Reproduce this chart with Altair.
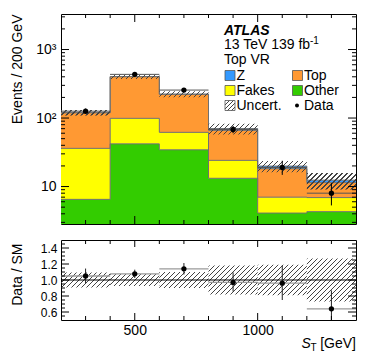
import math
import altair as alt
import pandas as pd

# ---------------- values ----------------
bin_lo = [200, 400, 600, 800, 1000, 1200]
bin_hi = [400, 600, 800, 1000, 1200, 1400]
bin_mid = [300, 500, 700, 900, 1100, 1300]

other = [6.5, 42.0, 34.4, 13.2, 4.1, 4.3]
fakes = [29.6, 57.0, 27.4, 10.9, 2.9, 2.6]
top = [83.0, 302.0, 160.0, 42.0, 11.2, 4.5]
zjets = [1.0, 2.0, 2.0, 4.0, 1.7, 1.0]

data_obs = [126, 434, 256, 68, 19, 8]
data_up = [11.3, 21.0, 16.5, 8.8, 4.8, 3.2]
data_dn = [11.0, 20.5, 15.5, 8.0, 4.2, 2.7]

unc_rel = [0.095, 0.075, 0.10, 0.18, 0.19, 0.27]

ratio = [1.05, 1.077, 1.14, 0.97, 0.96, 0.64]
ratio_up = [0.093, 0.052, 0.072, 0.125, 0.22, 0.23]
ratio_dn = [0.093, 0.052, 0.072, 0.115, 0.21, 0.20]

comp_names = ["Other", "Fakes", "Top", "Z"]
comp_colors = ["#33cc00", "#ffff00", "#ff9933", "#3399ff"]

x_major = [500, 1000]
x_minor = [300, 400, 600, 700, 800, 900, 1100, 1200, 1300]
y_major = [10, 100, 1000]
y_minor = [3, 4, 5, 6, 7, 8, 9, 20, 30, 40, 50, 60, 70, 80, 90,
           200, 300, 400, 500, 600, 700, 800, 900, 2000, 3000]
r_major = [0.6, 0.8, 1.0, 1.2, 1.4]
r_minor = [0.55, 0.65, 0.7, 0.75, 0.85, 0.9, 0.95, 1.05, 1.1, 1.15,
           1.25, 1.3, 1.35, 1.45]

legend_labels = ["Z", "Top", "Fakes", "Other", "Uncert.", "Data"]
legend_colors = ["#3399ff", "#ff9933", "#ffff00", "#33cc00", None, None]

# ---------------- layout / style ----------------
FONT = "Liberation Sans"
W, H1, H2 = 295, 210, 80
XD = [200, 1400]
YD = [2.84, 3300]
RD = [0.5, 1.5]
HATCH_COL = "#444444"
CLEAR = "rgba(255,255,255,0)"


def hatch_fill(w, h, spacing=5.0, lw=0.9, color=HATCH_COL):
    period = spacing / math.sqrt(2)
    s = w + h
    n2 = w * w + h * h
    L = s / math.sqrt(2)
    stops = []
    k = 0
    while True:
        a = k * period / L
        if a >= 1:
            break
        b = min((k * period + lw) / L, 1.0)
        stops += [{"offset": a, "color": CLEAR}, {"offset": a, "color": color},
                  {"offset": b, "color": color}, {"offset": b, "color": CLEAR}]
        k += 1
    return {"gradient": "linear", "x1": 0, "y1": 0,
            "x2": w * s / n2, "y2": h * s / n2, "stops": stops}


def ypx_top(v):
    a, b = math.log10(YD[0]), math.log10(YD[1])
    return H1 * (b - math.log10(v)) / (b - a)


xs = alt.Scale(domain=XD, nice=False, zero=False)
ys_top = alt.Scale(type="log", domain=YD, nice=False)
ys_rat = alt.Scale(domain=RD, nice=False, zero=False)

y_axis_top = alt.Axis(values=y_major, labelExpr="datum.value >= 1000 ? '10³' : (datum.value >= 100 ? '10²' : '10')",
                      ticks=False, tickSize=0, domain=False, grid=False, labelFontSize=14,
                      labelPadding=5, labelColor="black", title="Events / 200 GeV",
                      titleFontSize=14, titleFontWeight="normal", titleColor="black",
                      titleX=-40, titleY=0, titleAlign="right", titleAngle=270,
                      titleBaseline="alphabetic", labelFont=FONT, titleFont=FONT)
x_axis_rat = alt.Axis(values=x_major, format="d", ticks=False, tickSize=0, domain=False,
                      grid=False, labelFontSize=14, labelPadding=3, labelColor="black",
                      title=None, labelFont=FONT)
y_axis_rat = alt.Axis(values=r_major, format=".1f", ticks=False, tickSize=0, domain=False,
                      grid=False, labelFontSize=12, labelPadding=4, labelColor="black",
                      title="Data / SM", titleFontSize=14, titleFontWeight="normal",
                      titleColor="black", titleX=-40, titleY=3, titleAlign="right",
                      titleAngle=270, titleBaseline="alphabetic", labelFont=FONT, titleFont=FONT)


def Xt(f):
    return alt.X(f"{f}:Q", scale=xs, axis=None)


def Yt(f, **kw):
    return alt.Y(f"{f}:Q", scale=ys_top, axis=y_axis_top, **kw)


def Xr(f):
    return alt.X(f"{f}:Q", scale=xs, axis=x_axis_rat)


def Yr(f, **kw):
    return alt.Y(f"{f}:Q", scale=ys_rat, axis=y_axis_rat, **kw)


dummy = pd.DataFrame({"d": [0]})

# ---------------- top panel ----------------
edges = bin_lo + [bin_hi[-1]]
rows = []
cum = [0.0] * 6
for name, vals in zip(comp_names, [other, fakes, top, zjets]):
    lo = [c if c > 0 else 1.0 for c in cum]
    hi = [c + v for c, v in zip(cum, vals)]
    for i, e in enumerate(edges):
        j = min(i, 5)
        rows.append({"comp": name, "edge": e, "lo": lo[j], "hi": hi[j]})
    cum = hi
stack_df = pd.DataFrame(rows)
total = cum

areas = alt.Chart(stack_df).mark_area(interpolate="step-after", clip=True).encode(
    x=Xt("edge"), y=Yt("hi", stack=None), y2="lo",
    color=alt.Color("comp:N", scale=alt.Scale(domain=comp_names, range=comp_colors), legend=None))
outlines = alt.Chart(stack_df).mark_line(interpolate="step-after", color="#707070",
                                         strokeWidth=1, clip=True).encode(
    x=Xt("edge"), y=Yt("hi"), detail="comp:N")

top_layers = [areas, outlines]

bin_w_px = W * (bin_hi[0] - bin_lo[0]) / (XD[1] - XD[0])
for i in range(6):
    lo_v = total[i] * (1 - unc_rel[i])
    hi_v = total[i] * (1 + unc_rel[i])
    hpx = ypx_top(lo_v) - ypx_top(hi_v)
    df = pd.DataFrame({"x0": [bin_lo[i]], "x1": [bin_hi[i]], "lo": [lo_v], "hi": [hi_v]})
    top_layers.append(alt.Chart(df).mark_rect(fill=hatch_fill(bin_w_px, hpx), strokeWidth=0).encode(
        x=Xt("x0"), x2="x1", y=Yt("hi"), y2="lo"))

data_df = pd.DataFrame({"lo": bin_lo, "hi": bin_hi, "mid": bin_mid, "n": data_obs,
                        "nlo": [n - d for n, d in zip(data_obs, data_dn)],
                        "nhi": [n + u for n, u in zip(data_obs, data_up)]})
top_layers.append(alt.Chart(data_df).mark_rule(color="#555555", strokeWidth=1, clip=True).encode(
    x=Xt("lo"), x2="hi", y=Yt("n")))
top_layers.append(alt.Chart(data_df).mark_rule(color="black", strokeWidth=1, clip=True).encode(
    x=Xt("mid"), y=Yt("nlo"), y2="nhi"))
top_layers.append(alt.Chart(data_df).mark_circle(color="black", size=28, opacity=1).encode(
    x=Xt("mid"), y=Yt("n")))


def tick_layers(xvals_major, xvals_minor, yvals_major, yvals_minor, Xf, Yf, h, xlen=(8, 4), ylen=(8, 4)):
    out = []
    for vals, ln in ((xvals_major, xlen[0]), (xvals_minor, xlen[1])):
        df = pd.DataFrame({"v": vals})
        out.append(alt.Chart(df).mark_rule(color="black", strokeWidth=1).encode(
            x=Xf("v"), y=alt.value(0), y2=alt.value(ln)))
        out.append(alt.Chart(df).mark_rule(color="black", strokeWidth=1).encode(
            x=Xf("v"), y=alt.value(h), y2=alt.value(h - ln)))
    for vals, ln in ((yvals_major, ylen[0]), (yvals_minor, ylen[1])):
        df = pd.DataFrame({"v": vals})
        out.append(alt.Chart(df).mark_rule(color="black", strokeWidth=1).encode(
            y=Yf("v"), x=alt.value(0), x2=alt.value(ln)))
        out.append(alt.Chart(df).mark_rule(color="black", strokeWidth=1).encode(
            y=Yf("v"), x=alt.value(W), x2=alt.value(W - ln)))
    return out


top_layers += tick_layers(x_major, x_minor, y_major, y_minor, Xt, Yt, H1)


def txt(s, x, y, size=14, **kw):
    return alt.Chart(dummy).mark_text(text=s, align=kw.pop("align", "left"), baseline="alphabetic",
                                      fontSize=size, font=FONT, color="black", **kw).encode(
        x=alt.value(x), y=alt.value(y))


# legend / labels
top_layers.append(txt("ATLAS", 163, 20.5, fontStyle="italic", fontWeight="bold"))
top_layers.append(txt("13 TeV 139 fb", 163, 35.3))
top_layers.append(txt("-1", 249, 30, size=10))
top_layers.append(txt("Top VR", 163, 50.3))

col_box_x = [164, 231.5]
col_txt_x = [175.5, 243]
row_top = [56.5, 71.5, 86.5]
row_base = [65.7, 80.7, 95.7]
for k, (lab, col) in enumerate(zip(legend_labels, legend_colors)):
    r, c = divmod(k, 2)
    bx, by = col_box_x[c], row_top[r]
    if lab == "Data":
        top_layers.append(alt.Chart(dummy).mark_circle(color="black", size=16, opacity=1).encode(
            x=alt.value(bx + 4.5), y=alt.value(by + 5)))
    elif lab == "Uncert.":
        top_layers.append(alt.Chart(dummy).mark_rect(fill=hatch_fill(10, 10, spacing=4), stroke="#555555",
                                                     strokeWidth=0.8).encode(
            x=alt.value(bx), x2=alt.value(bx + 10), y=alt.value(by), y2=alt.value(by + 10)))
    else:
        top_layers.append(alt.Chart(dummy).mark_rect(fill=col, stroke="#555555", strokeWidth=0.8).encode(
            x=alt.value(bx), x2=alt.value(bx + 10), y=alt.value(by), y2=alt.value(by + 10)))
    top_layers.append(txt(lab, col_txt_x[c], row_base[r]))

top_chart = alt.layer(*top_layers).properties(width=W, height=H1)

# ---------------- ratio panel ----------------
rat_layers = []
for i in range(6):
    hpx = H2 * 2 * unc_rel[i] / (RD[1] - RD[0])
    df = pd.DataFrame({"x0": [bin_lo[i]], "x1": [bin_hi[i]],
                       "lo": [1 - unc_rel[i]], "hi": [1 + unc_rel[i]]})
    rat_layers.append(alt.Chart(df).mark_rect(fill=hatch_fill(bin_w_px, hpx), strokeWidth=0).encode(
        x=Xr("x0"), x2="x1", y=Yr("hi"), y2="lo"))

rat_layers.append(alt.Chart(pd.DataFrame({"one": [1.0]})).mark_rule(color="black", strokeWidth=1).encode(
    y=Yr("one")))

rat_df = pd.DataFrame({"lo": bin_lo, "hi": bin_hi, "mid": bin_mid, "r": ratio,
                       "rlo": [r - d for r, d in zip(ratio, ratio_dn)],
                       "rhi": [r + u for r, u in zip(ratio, ratio_up)]})
rat_layers.append(alt.Chart(rat_df).mark_rule(color="#9a9a9a", strokeWidth=1.3, clip=True).encode(
    x=Xr("lo"), x2="hi", y=Yr("r")))
rat_layers.append(alt.Chart(rat_df).mark_rule(color="#222222", strokeWidth=1, clip=True).encode(
    x=Xr("mid"), y=Yr("rlo"), y2="rhi"))
rat_layers.append(alt.Chart(rat_df).mark_circle(color="black", size=28, opacity=1, clip=True).encode(
    x=Xr("mid"), y=Yr("r")))

rat_layers += tick_layers(x_major, x_minor, r_major, r_minor, Xr, Yr, H2, xlen=(7, 4), ylen=(8, 4))

rat_layers.append(txt("S", 240.5, 108, fontStyle="italic"))
rat_layers.append(txt("T", 249.5, 111, size=10))
rat_layers.append(txt("[GeV]", W, 108, align="right"))

rat_chart = alt.layer(*rat_layers).properties(width=W, height=H2)

chart = alt.vconcat(top_chart, rat_chart, spacing=14).properties(
    padding={"left": 1, "top": 5, "right": 5, "bottom": 5}
).configure(font=FONT).configure_view(stroke="black", strokeWidth=1)

chart.save("out.html", embed_options={"renderer": "svg", "actions": False})
